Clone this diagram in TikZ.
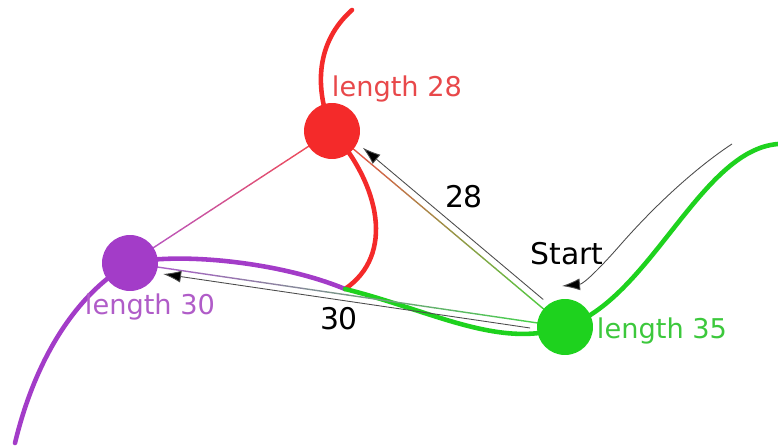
\documentclass[tikz,border=0pt]{standalone}
\usepackage{fontspec}
\setmainfont{DejaVu Sans}
\usetikzlibrary{arrows.meta,calc}

\pgfdeclarelayer{background}
\pgfsetlayers{background,main}

\definecolor{redv}{HTML}{F42A2A}
\definecolor{purplev}{HTML}{A33CC8}
\definecolor{greenv}{HTML}{1ED21E}
\definecolor{redt}{HTML}{E8484A}
\definecolor{purplet}{HTML}{B05CC8}
\definecolor{greent}{HTML}{3CC83C}

\tikzset{
  vertex/.style={circle, minimum size=1.12cm, inner sep=0pt},
  route/.style={line width=2.6pt, line cap=round},
  edge/.style={line width=0.8pt, line cap=round},
  hop/.style={draw=black!70, line width=0.5pt,
    -{Latex[length=0.36cm,width=0.24cm,fill=black]},
    shorten <=0.12cm, shorten >=0.12cm},
  biglabel/.style={inner sep=0pt, font=\fontsize{17}{20}\selectfont},
  lenlabel/.style={inner sep=0pt, font=\fontsize{15.5}{18}\selectfont},
}

\begin{document}
\begin{tikzpicture}[x=0.02cm, y=-0.02cm]
  \useasboundingbox (0,0) rectangle (778,446);

  % vertices and loose ends of the routes
  \node[vertex, fill=redv] (r) at (332,131) {};
  \node[vertex, fill=purplev] (p) at (130,263) {};
  \node[vertex, fill=greenv] (g) at (565,327) {};
  \coordinate (j) at (345,289);
  \coordinate (rt) at (352,10);
  \coordinate (pb) at (15,443);
  \coordinate (ge) at (778,144);
  \coordinate (s0) at (732,144);
  \coordinate (s1) at (562,286);

  \begin{pgfonlayer}{background}
    % thick routes
    \draw[route, redv] (rt) .. controls (316,42) and (314,88) .. (r.center)
      .. controls (380,185) and (395,255) .. (j);
    \draw[route, purplev] (pb) .. controls (35,360) and (75,295) .. (p.center)
      .. controls (180,252) and (280,262) .. (j);
    \draw[route, greenv] (j) .. controls (430,310) and (500,350) .. (g.center)
      .. controls (650,300) and (700,150) .. (ge);

    % straight edges, fading from one vertex colour to the other
    \foreach \u/\v/\cu/\cv in {g/r/greenv/redv, g/p/greenv/purplev, p/r/purplev/redv}
      \foreach \i in {0,...,19} {
        \pgfmathsetmacro\a{\i/20}
        \pgfmathsetmacro\b{(\i+1)/20}
        \pgfmathtruncatemacro\m{97-5*\i}
        \draw[edge, color=\cu!\m!\cv!85!white] ($(\u)!\a!(\v)$) -- ($(\u)!\b!(\v)$);
      }
  \end{pgfonlayer}

  % hops from the start vertex
  \draw[hop, transform canvas={shift={(4.5,-5.4)}}] (g) -- (r);
  \draw[hop, transform canvas={shift={(-0.9,6)}}] (g) -- (p);
  \draw[hop, shorten <=0pt, shorten >=0pt] (s0) .. controls (700,165) and (660,200) .. (622,243)
    .. controls (602,266) and (584,284) .. (s1);

  % labels
  \node[biglabel] (l28) at (464,197) {28};
  \node[biglabel] (l30) at (339,319) {30};
  \node[biglabel] (st) at (567,254) {Start};
  \node[lenlabel, text=redt] (lr) at (397,89) {length 28};
  \node[lenlabel, text=purplet] (lp) at (150,307) {length 30};
  \node[lenlabel, text=greent] (lg) at (662,331) {length 35};
\end{tikzpicture}
\end{document}
